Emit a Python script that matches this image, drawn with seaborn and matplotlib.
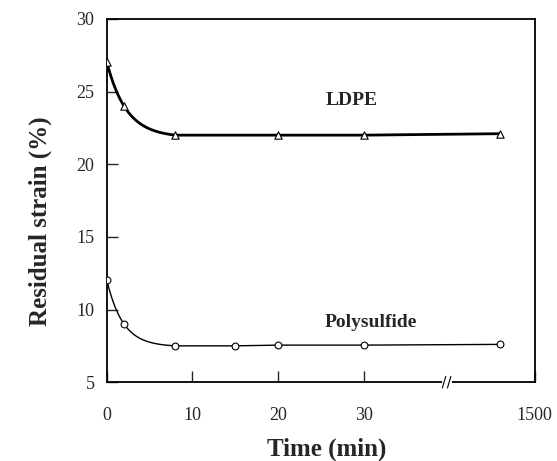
import numpy as np
import pandas as pd
import matplotlib
matplotlib.use("Agg")
import matplotlib.pyplot as plt
import seaborn as sns

# ---- data ----
ldpe_time = [0, 2, 8, 20, 30, 1440]
ldpe_strain = [27.0, 24.0, 22.0, 22.0, 22.0, 22.1]
poly_time = [0, 2, 8, 15, 20, 30, 1440]
poly_strain = [12.0, 9.0, 7.5, 7.5, 7.55, 7.55, 7.6]
x_tick_values = [0, 10, 20, 30, 1500]
x_tick_labels = ["0", "10", "20", "30", "1500"]
y_ticks = [5, 10, 15, 20, 25, 30]

# broken time axis: linear up to 30 min, compressed afterwards
def tpos(t):
    t = np.asarray(t, dtype=float)
    return np.where(t <= 30, t, 46 + (t - 1440) * 4.0 / 60.0)

def exp_curve(ts, ys):
    # exponential decay through first three points (t=0,2,8), then straight segments
    y0, y1, y2 = ys[0], ys[1], ys[2]
    r = (y0 - y2) / (y0 - y1)
    roots = np.roots([1, 1, 1, 1 - r])
    u = float([z.real for z in roots if abs(z.imag) < 1e-9 and 0 < z.real < 1][0])
    B = (y0 - y1) / (1 - u)
    A = y0 - B
    k = -np.log(u) / 2.0
    tt = np.linspace(0, ts[2], 80)
    yy = A + B * np.exp(-k * tt)
    xs = np.concatenate([tpos(tt), tpos(ts[3:])])
    ys_all = np.concatenate([yy, ys[3:]])
    return xs, ys_all

sns.set_style("ticks")
plt.rcParams["font.family"] = ["Liberation Serif", "DejaVu Serif"]

fig = plt.figure(figsize=(5.57, 4.61), dpi=100)
ax = fig.add_axes([0.192, 0.171, 0.768, 0.788])

lx, ly = exp_curve(ldpe_time, ldpe_strain)
px, py = exp_curve(poly_time, poly_strain)
sns.lineplot(x=lx, y=ly, ax=ax, color="black", lw=2.0, sort=False, estimator=None)
sns.lineplot(x=px, y=py, ax=ax, color="black", lw=1.0, sort=False, estimator=None)

df_l = pd.DataFrame({"x": tpos(ldpe_time), "y": ldpe_strain})
df_p = pd.DataFrame({"x": tpos(poly_time), "y": poly_strain})
sns.scatterplot(data=df_l, x="x", y="y", ax=ax, marker="^", s=28,
                facecolor="white", edgecolor="black", linewidth=0.8, zorder=5)
sns.scatterplot(data=df_p, x="x", y="y", ax=ax, marker="o", s=24,
                facecolor="white", edgecolor="black", linewidth=0.8, zorder=5)

ax.set_xlim(0, 50)
ax.set_ylim(5, 30)
ax.set_yticks(y_ticks)
ax.set_xticks(tpos(x_tick_values))
ax.set_xticklabels(x_tick_labels)
ax.tick_params(axis="both", direction="in", length=8, width=1.0, labelsize=13)
ax.tick_params(axis="x", pad=18)
ax.tick_params(axis="y", pad=9)
for s in ax.spines.values():
    s.set_linewidth(1.3)
    s.set_color("black")

ax.set_xlabel("Time (min)", fontsize=18, fontweight="bold")
ax.set_ylabel("Residual strain (%)", fontsize=18, fontweight="bold")
ax.xaxis.set_label_coords(0.514, -0.152)
ax.yaxis.set_label_coords(-0.128, 0.443)

ax.text(28.6, 24.4, "LDPE", fontsize=14, fontweight="bold", ha="center", va="center")
ax.text(30.8, 9.1, "Polysulfide", fontsize=14, fontweight="bold", ha="center", va="center")

# axis break mark
bx = 39.7
ax.plot([bx - 0.35, bx + 0.35], [5, 5], color="white", lw=3, clip_on=False, zorder=6)
ax.plot([bx - 0.5, bx - 0.1], [4.6, 5.4], color="black", lw=0.8, clip_on=False, zorder=7)
ax.plot([bx + 0.1, bx + 0.5], [4.6, 5.4], color="black", lw=0.8, clip_on=False, zorder=7)

fig.savefig("out.png", dpi=100)
